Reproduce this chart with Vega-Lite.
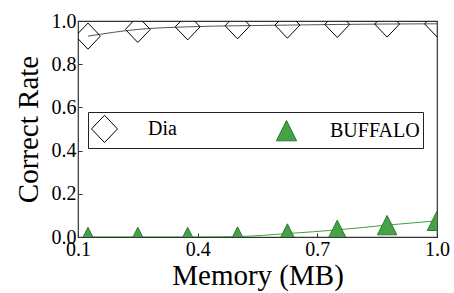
{
  "$schema": "https://vega.github.io/schema/vega-lite/v6.json",
  "autosize": {"type": "none"},
  "padding": {"left": 78, "top": 21, "right": 17, "bottom": 56},
  "width": 359,
  "height": 216,
  "background": "white",
  "config": {
    "view": {"stroke": "#333", "strokeWidth": 1.2},
    "axis": {
      "grid": false,
      "domain": false,
      "labelFont": "Liberation Serif",
      "labelFontSize": 20,
      "labelColor": "#000",
      "labelFlush": false,
      "labelOverlap": false,
      "tickColor": "#333",
      "tickSize": -4,
      "titleFont": "Liberation Serif",
      "titleFontSize": 29,
      "titleFontWeight": "normal",
      "titleColor": "#000"
    },
    "legend": {
      "orient": "none",
      "legendX": 10,
      "legendY": 91,
      "direction": "horizontal",
      "columns": 2,
      "columnPadding": 96,
      "padding": 3,
      "strokeColor": "#222",
      "fillColor": "white",
      "labelFont": "Liberation Serif",
      "labelFontSize": 20,
      "labelColor": "#000",
      "labelOffset": 30,
      "symbolSize": 676,
      "symbolStrokeWidth": 1,
      "symbolOpacity": 1,
      "labelLimit": 300
    }
  },
  "data": {
    "values": [
      {"memory": 0.125, "series": "Dia", "rate": 0.930},
      {"memory": 0.25, "series": "Dia", "rate": 0.961},
      {"memory": 0.375, "series": "Dia", "rate": 0.973},
      {"memory": 0.5, "series": "Dia", "rate": 0.978},
      {"memory": 0.625, "series": "Dia", "rate": 0.981},
      {"memory": 0.75, "series": "Dia", "rate": 0.984},
      {"memory": 0.875, "series": "Dia", "rate": 0.986},
      {"memory": 1.0, "series": "Dia", "rate": 0.987},
      {"memory": 0.125, "series": "BUFFALO", "rate": 0.0},
      {"memory": 0.25, "series": "BUFFALO", "rate": 0.0},
      {"memory": 0.375, "series": "BUFFALO", "rate": 0.0},
      {"memory": 0.5, "series": "BUFFALO", "rate": 0.002},
      {"memory": 0.625, "series": "BUFFALO", "rate": 0.016},
      {"memory": 0.75, "series": "BUFFALO", "rate": 0.033},
      {"memory": 0.875, "series": "BUFFALO", "rate": 0.055},
      {"memory": 1.0, "series": "BUFFALO", "rate": 0.075}
    ]
  },
  "encoding": {
    "x": {
      "field": "memory",
      "type": "quantitative",
      "scale": {"domain": [0.1, 1.0], "nice": false, "zero": false},
      "axis": {"values": [0.1, 0.4, 0.7, 1.0], "format": ".1f", "title": "Memory (MB)", "labelPadding": 6, "titlePadding": 2}
    },
    "y": {
      "field": "rate",
      "type": "quantitative",
      "scale": {"domain": [0, 1], "nice": false},
      "axis": {"values": [0, 0.2, 0.4, 0.6, 0.8, 1.0], "format": ".1f", "title": "Correct Rate", "labelPadding": 6, "titlePadding": 8}
    }
  },
  "layer": [
    {
      "transform": [{"filter": "datum.series === 'Dia'"}],
      "mark": {"type": "line", "clip": true, "strokeWidth": 1, "interpolate": "monotone", "color": "#555555"}
    },
    {
      "transform": [{"filter": "datum.series === 'BUFFALO'"}],
      "mark": {"type": "line", "clip": true, "strokeWidth": 1, "interpolate": "monotone", "color": "#3da23d"}
    },
    {
      "mark": {"type": "point", "clip": true, "strokeWidth": 1, "size": 620, "opacity": 1},
      "encoding": {
        "shape": {
          "field": "series",
          "type": "nominal",
          "scale": {"domain": ["Dia", "BUFFALO"], "range": ["M-1,0L0,-1.05L1,0L0,1.05Z", "M0,-0.78L-0.78,0.78L0.78,0.78Z"]},
          "legend": {"title": null}
        },
        "fill": {
          "field": "series",
          "type": "nominal",
          "scale": {"domain": ["Dia", "BUFFALO"], "range": ["transparent", "#46a246"]},
          "legend": {"title": null}
        },
        "stroke": {
          "field": "series",
          "type": "nominal",
          "scale": {"domain": ["Dia", "BUFFALO"], "range": ["#000000", "#2f7a2f"]},
          "legend": {"title": null}
        }
      }
    }
  ]
}
